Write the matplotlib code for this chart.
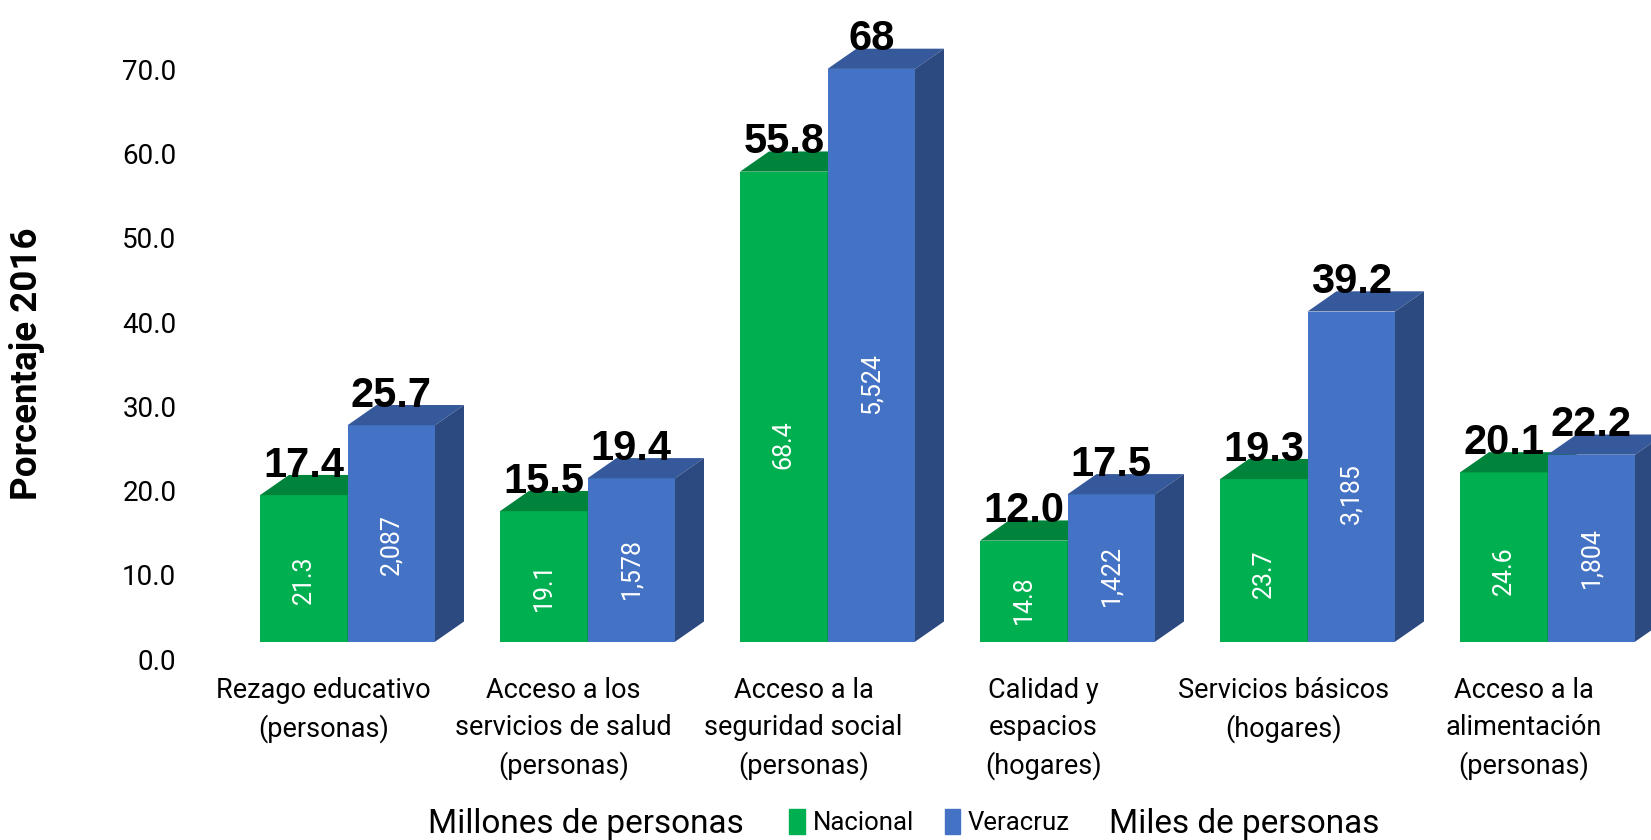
import numpy as np
import matplotlib
matplotlib.use("Agg")
import matplotlib.pyplot as plt
from matplotlib.patches import Patch

# ====================================
# 1. Data
# ====================================
categorias = [
    "Rezago educativo\n(personas)",
    "Acceso a los\nservicios de salud\n(personas)",
    "Acceso a la\nseguridad social\n(personas)",
    "Calidad y\nespacios\n(hogares)",
    "Servicios básicos\n(hogares)",
    "Acceso a la\nalimentación\n(personas)",
]
nacional_pct = [17.4, 15.5, 55.8, 12.0, 19.3, 20.1]
veracruz_pct = [25.7, 19.4, 68, 17.5, 39.2, 22.2]
nacional_millones = ["21.3", "19.1", "68.4", "14.8", "23.7", "24.6"]
veracruz_miles = ["2,087", "1,578", "5,524", "1,422", "3,185", "1,804"]
etiqueta_nac = ["17.4", "15.5", "55.8", "12.0", "19.3", "20.1"]
etiqueta_ver = ["25.7", "19.4", "68", "17.5", "39.2", "22.2"]
yticks = [0, 10, 20, 30, 40, 50, 60, 70]

# ====================================
# 2. Styles
# ====================================
verde = "#00B050"
verde_top = "#00843C"
azul = "#4472C4"
azul_top = "#35599B"
azul_side = "#2C4A80"

W, H = 1651, 840
fig = plt.figure(figsize=(W / 100, H / 100), dpi=100)

# axes placed in pixel terms
ax_left, ax_right, ax_top, ax_bot = 200, 1651, 20, 665
ax = fig.add_axes([ax_left / W, 1 - ax_bot / H, (ax_right - ax_left) / W, (ax_bot - ax_top) / H])

px_per_unit = 8.424
zero_px = 659
group_px = 240
center0 = 347.5
ax.set_xlim((ax_left - center0) / group_px, (ax_right - center0) / group_px)
ax.set_ylim((zero_px - ax_bot) / px_per_unit, (zero_px - ax_top) / px_per_unit)

w = 87.5 / group_px     # bar width
dx = 29 / group_px      # depth x
dy = 2.4                # depth y
base = 2.05             # front face baseline

x = np.arange(len(categorias))


def bar3d(xc, h, front, top, side):
    x0, x1 = xc - w / 2, xc + w / 2
    t = base + h
    ax.bar(xc, h, width=w, bottom=base, color=front, zorder=2)
    ax.fill([x0, x1, x1 + dx, x0 + dx], [t, t, t + dy, t + dy], color=top, lw=0, zorder=2)
    ax.fill([x1, x1 + dx, x1 + dx, x1], [base, base + dy, t + dy, t], color=side, lw=0, zorder=2)


for i in x:
    bar3d(i - w / 2, nacional_pct[i], verde, verde_top, verde_top)
    bar3d(i + w / 2, veracruz_pct[i], azul, azul_top, azul_side)

# percentage labels on top
for i in x:
    ax.text(i - w / 2, base + nacional_pct[i] + dy - 0.2, etiqueta_nac[i], ha="center",
            va="baseline", fontsize=30, fontweight="bold", family="Liberation Sans", zorder=5)
    ax.text(i + w / 2, base + veracruz_pct[i] + dy - 0.2, etiqueta_ver[i], ha="center",
            va="baseline", fontsize=30, fontweight="bold", family="Liberation Sans", zorder=5)

# people labels inside bars
for i in x:
    ax.text(i - w / 2, base + nacional_pct[i] * 0.42, nacional_millones[i], rotation=90, ha="center",
            va="center", color="white", fontsize=18, family="Roboto", zorder=5)
    ax.text(i + w / 2, base + veracruz_pct[i] * 0.45, veracruz_miles[i], rotation=90, ha="center",
            va="center", color="white", fontsize=18, family="Roboto", zorder=5)

# axes styling
ax.set_yticks(yticks)
ax.set_yticklabels([f"{v:.1f}" for v in yticks], fontsize=20, family="Roboto")
ax.set_xticks(x - 0.1)
ax.set_xticklabels(categorias, fontsize=19.5, family="Roboto", linespacing=1.45)
ax.tick_params(axis="both", length=0)
ax.tick_params(axis="y", pad=17)
ax.tick_params(axis="x", pad=9)
for s in ax.spines.values():
    s.set_visible(False)

fig.text(27 / W, 1 - 364 / H, "Porcentaje 2016", rotation=90, ha="center", va="center",
         fontsize=26.5, fontweight="bold", family="Roboto")

# legend
handles = [Patch(color=verde), Patch(color=azul)]
fig.legend(handles, ["Nacional", "Veracruz"], loc="center", bbox_to_anchor=(0.563, 0.021), ncol=2,
           frameon=False, prop={"family": "Roboto", "size": 18.5}, handlelength=0.6, handleheight=1.1,
           handletextpad=0.3, columnspacing=1.2)
fig.text(586 / W, 0.019, "Millones de personas", ha="center", va="center", fontsize=24, family="Roboto")
fig.text(1244 / W, 0.019, "Miles de personas", ha="center", va="center", fontsize=24, family="Roboto")

fig.savefig("out.png", dpi=100)
